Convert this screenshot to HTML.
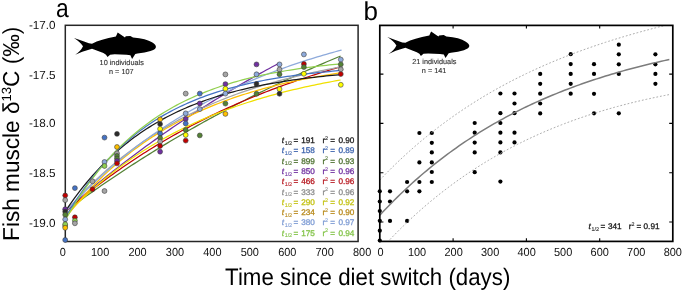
<!DOCTYPE html><html><head><meta charset="utf-8"><style>html,body{margin:0;padding:0;background:#fff;}</style></head><body><svg width="685" height="292" viewBox="0 0 685 292" style="display:block;font-family:'Liberation Sans', sans-serif;will-change:transform;text-rendering:geometricPrecision">
<rect width="685" height="292" fill="#fff"/>
<text x="55.9" y="16.6" font-size="26" text-anchor="start" fill="#000" textLength="12.7" lengthAdjust="spacingAndGlyphs">a</text>
<text x="363.5" y="19.6" font-size="26" text-anchor="start" fill="#000" >b</text>
<text x="55.6" y="29.3" font-size="11.7" text-anchor="end" fill="#111" >-17.0</text>
<text x="55.6" y="78.60000000000001" font-size="11.7" text-anchor="end" fill="#111" >-17.5</text>
<text x="55.6" y="127.3" font-size="11.7" text-anchor="end" fill="#111" >-18.0</text>
<text x="55.6" y="177.0" font-size="11.7" text-anchor="end" fill="#111" >-18.5</text>
<text x="55.6" y="226.5" font-size="11.7" text-anchor="end" fill="#111" >-19.0</text>
<text x="62.7" y="256.2" font-size="11.7" text-anchor="middle" fill="#111" textLength="6.08" lengthAdjust="spacingAndGlyphs">0</text>
<text x="100.12" y="256.2" font-size="11.7" text-anchor="middle" fill="#111" textLength="18.25" lengthAdjust="spacingAndGlyphs">100</text>
<text x="137.55" y="256.2" font-size="11.7" text-anchor="middle" fill="#111" textLength="18.25" lengthAdjust="spacingAndGlyphs">200</text>
<text x="174.97" y="256.2" font-size="11.7" text-anchor="middle" fill="#111" textLength="18.25" lengthAdjust="spacingAndGlyphs">300</text>
<text x="212.4" y="256.2" font-size="11.7" text-anchor="middle" fill="#111" textLength="18.25" lengthAdjust="spacingAndGlyphs">400</text>
<text x="249.82" y="256.2" font-size="11.7" text-anchor="middle" fill="#111" textLength="18.25" lengthAdjust="spacingAndGlyphs">500</text>
<text x="287.25" y="256.2" font-size="11.7" text-anchor="middle" fill="#111" textLength="18.25" lengthAdjust="spacingAndGlyphs">600</text>
<text x="324.67" y="256.2" font-size="11.7" text-anchor="middle" fill="#111" textLength="18.25" lengthAdjust="spacingAndGlyphs">700</text>
<text x="362.1" y="256.2" font-size="11.7" text-anchor="middle" fill="#111" textLength="18.25" lengthAdjust="spacingAndGlyphs">800</text>
<text x="380.55" y="256.2" font-size="11.7" text-anchor="middle" fill="#111" textLength="6.08" lengthAdjust="spacingAndGlyphs">0</text>
<text x="417.07" y="256.2" font-size="11.7" text-anchor="middle" fill="#111" textLength="18.25" lengthAdjust="spacingAndGlyphs">100</text>
<text x="453.6" y="256.2" font-size="11.7" text-anchor="middle" fill="#111" textLength="18.25" lengthAdjust="spacingAndGlyphs">200</text>
<text x="490.12" y="256.2" font-size="11.7" text-anchor="middle" fill="#111" textLength="18.25" lengthAdjust="spacingAndGlyphs">300</text>
<text x="526.65" y="256.2" font-size="11.7" text-anchor="middle" fill="#111" textLength="18.25" lengthAdjust="spacingAndGlyphs">400</text>
<text x="563.17" y="256.2" font-size="11.7" text-anchor="middle" fill="#111" textLength="18.25" lengthAdjust="spacingAndGlyphs">500</text>
<text x="599.7" y="256.2" font-size="11.7" text-anchor="middle" fill="#111" textLength="18.25" lengthAdjust="spacingAndGlyphs">600</text>
<text x="636.23" y="256.2" font-size="11.7" text-anchor="middle" fill="#111" textLength="18.25" lengthAdjust="spacingAndGlyphs">700</text>
<text x="672.75" y="256.2" font-size="11.7" text-anchor="middle" fill="#111" textLength="18.25" lengthAdjust="spacingAndGlyphs">800</text>
<text transform="translate(225.1,285.2) scale(1,1.06)" font-size="22.5" fill="#000" textLength="285.2" lengthAdjust="spacingAndGlyphs">Time since diet switch (days)</text>
<text transform="translate(19,240.9) rotate(-90) scale(1,1.025)" font-size="22.5" fill="#000" textLength="214.2" lengthAdjust="spacingAndGlyphs">Fish muscle δ<tspan font-size="13" dy="-7.5">13</tspan><tspan dy="7.5">C (‰)</tspan></text>
<path d="M74.0 38.0 L79.9 40.1 L88.9 43.3 L92 43.7 Q100.5 39.3 115.9 36.5 L117.7 32.4 L125 37.5 L125.7 36.3 L130.3 35.9 L133 37.5 Q146.5 38.8 152 42.3 Q156.3 44.8 155.9 47.2 Q155.2 49.6 150.5 51.1 Q145 52.6 137.5 53.6 L135.3 54.1 L132.1 58.9 L130.4 55.3 L126.6 54.8 L114.7 54.3 L110.1 54.7 L107.5 57 L106 54.7 L103.4 53.1 L92 48.7 L82.3 51.7 L75.2 54.8 Q80.9 51.0 83.0 46.3 Q80.6 42.3 74.0 38.0 Z" transform="translate(0,0)" fill="#000"/>
<path d="M74.0 38.0 L79.9 40.1 L88.9 43.3 L92 43.7 Q100.5 39.3 115.9 36.5 L117.7 32.4 L125 37.5 L125.7 36.3 L130.3 35.9 L133 37.5 Q146.5 38.8 152 42.3 Q156.3 44.8 155.9 47.2 Q155.2 49.6 150.5 51.1 Q145 52.6 137.5 53.6 L135.3 54.1 L132.1 58.9 L130.4 55.3 L126.6 54.8 L114.7 54.3 L110.1 54.7 L107.5 57 L106 54.7 L103.4 53.1 L92 48.7 L82.3 51.7 L75.2 54.8 Q80.9 51.0 83.0 46.3 Q80.6 42.3 74.0 38.0 Z" transform="translate(313.4,-0.9)" fill="#000"/>
<text x="121.7" y="64.8" font-size="7.3" text-anchor="middle" fill="#333" stroke="#333" stroke-width="0.12">10 individuals</text>
<text x="121.3" y="73.8" font-size="7.3" text-anchor="middle" fill="#333" stroke="#333" stroke-width="0.12">n = 107</text>
<text x="434.3" y="63.9" font-size="7.3" text-anchor="middle" fill="#333" stroke="#333" stroke-width="0.12">21 individuals</text>
<text x="434.1" y="73.0" font-size="7.3" text-anchor="middle" fill="#333" stroke="#333" stroke-width="0.12">n = 141</text>
<circle cx="379.8" cy="191.3" r="2.1" fill="#000"/>
<circle cx="379.8" cy="201.5" r="2.1" fill="#000"/>
<circle cx="379.8" cy="211.0" r="2.1" fill="#000"/>
<circle cx="379.8" cy="220.8" r="2.1" fill="#000"/>
<circle cx="379.8" cy="230.7" r="2.1" fill="#000"/>
<circle cx="379.8" cy="240.5" r="2.1" fill="#000"/>
<circle cx="390.0" cy="191.3" r="2.1" fill="#000"/>
<circle cx="390.0" cy="201.5" r="2.1" fill="#000"/>
<circle cx="390.0" cy="220.9" r="2.1" fill="#000"/>
<circle cx="407.1" cy="182.0" r="2.1" fill="#000"/>
<circle cx="407.1" cy="191.3" r="2.1" fill="#000"/>
<circle cx="407.1" cy="220.9" r="2.1" fill="#000"/>
<circle cx="419.4" cy="133.0" r="2.1" fill="#000"/>
<circle cx="419.4" cy="162.4" r="2.1" fill="#000"/>
<circle cx="419.4" cy="182.0" r="2.1" fill="#000"/>
<circle cx="419.4" cy="191.3" r="2.1" fill="#000"/>
<circle cx="431.8" cy="133.0" r="2.1" fill="#000"/>
<circle cx="431.8" cy="142.8" r="2.1" fill="#000"/>
<circle cx="431.8" cy="152.4" r="2.1" fill="#000"/>
<circle cx="431.8" cy="162.4" r="2.1" fill="#000"/>
<circle cx="431.8" cy="172.0" r="2.1" fill="#000"/>
<circle cx="431.8" cy="182.0" r="2.1" fill="#000"/>
<circle cx="474.7" cy="123.0" r="2.1" fill="#000"/>
<circle cx="474.7" cy="132.7" r="2.1" fill="#000"/>
<circle cx="474.7" cy="142.6" r="2.1" fill="#000"/>
<circle cx="474.7" cy="152.4" r="2.1" fill="#000"/>
<circle cx="474.7" cy="172.2" r="2.1" fill="#000"/>
<circle cx="500.4" cy="93.5" r="2.1" fill="#000"/>
<circle cx="500.4" cy="113.2" r="2.1" fill="#000"/>
<circle cx="500.4" cy="123.0" r="2.1" fill="#000"/>
<circle cx="500.4" cy="132.7" r="2.1" fill="#000"/>
<circle cx="500.4" cy="142.4" r="2.1" fill="#000"/>
<circle cx="500.4" cy="152.4" r="2.1" fill="#000"/>
<circle cx="500.4" cy="181.6" r="2.1" fill="#000"/>
<circle cx="514.5" cy="93.5" r="2.1" fill="#000"/>
<circle cx="514.5" cy="103.5" r="2.1" fill="#000"/>
<circle cx="514.5" cy="113.2" r="2.1" fill="#000"/>
<circle cx="514.5" cy="132.7" r="2.1" fill="#000"/>
<circle cx="514.5" cy="142.4" r="2.1" fill="#000"/>
<circle cx="540.2" cy="73.9" r="2.1" fill="#000"/>
<circle cx="540.2" cy="83.8" r="2.1" fill="#000"/>
<circle cx="540.2" cy="93.7" r="2.1" fill="#000"/>
<circle cx="540.2" cy="103.5" r="2.1" fill="#000"/>
<circle cx="540.2" cy="113.4" r="2.1" fill="#000"/>
<circle cx="570.7" cy="54.2" r="2.1" fill="#000"/>
<circle cx="570.7" cy="64.1" r="2.1" fill="#000"/>
<circle cx="570.7" cy="73.9" r="2.1" fill="#000"/>
<circle cx="570.7" cy="83.8" r="2.1" fill="#000"/>
<circle cx="570.7" cy="93.7" r="2.1" fill="#000"/>
<circle cx="594.0" cy="64.2" r="2.1" fill="#000"/>
<circle cx="594.0" cy="73.9" r="2.1" fill="#000"/>
<circle cx="594.0" cy="93.8" r="2.1" fill="#000"/>
<circle cx="594.0" cy="113.3" r="2.1" fill="#000"/>
<circle cx="618.8" cy="44.7" r="2.1" fill="#000"/>
<circle cx="618.8" cy="54.3" r="2.1" fill="#000"/>
<circle cx="618.8" cy="64.3" r="2.1" fill="#000"/>
<circle cx="618.8" cy="73.9" r="2.1" fill="#000"/>
<circle cx="618.8" cy="113.3" r="2.1" fill="#000"/>
<circle cx="655.4" cy="54.3" r="2.1" fill="#000"/>
<circle cx="655.4" cy="64.3" r="2.1" fill="#000"/>
<circle cx="655.4" cy="73.9" r="2.1" fill="#000"/>
<circle cx="655.4" cy="83.8" r="2.1" fill="#000"/>
<clipPath id="cb"><rect x="379.8" y="25.4" width="292.99999999999994" height="216.0"/></clipPath>
<g clip-path="url(#cb)">
<polyline fill="none" stroke="#a8a8a8" stroke-width="0.95" stroke-dasharray="1.8,1.9" points="379.80,180.02 382.73,176.96 385.66,173.94 388.60,170.98 391.53,168.06 394.46,165.18 397.39,162.36 400.32,159.58 403.26,156.84 406.19,154.15 409.12,151.50 412.05,148.89 414.98,146.32 417.92,143.80 420.85,141.31 423.78,138.86 426.71,136.46 429.64,134.09 432.58,131.76 435.51,129.46 438.44,127.20 441.37,124.98 444.30,122.79 447.24,120.64 450.17,118.52 453.10,116.43 456.03,114.38 458.96,112.36 461.90,110.37 464.83,108.41 467.76,106.48 470.69,104.58 473.62,102.71 476.56,100.87 479.49,99.06 482.42,97.28 485.35,95.52 488.28,93.79 491.22,92.09 494.15,90.41 497.08,88.76 500.01,87.14 502.94,85.54 505.88,83.96 508.81,82.41 511.74,80.88 514.67,79.38 517.60,77.90 520.54,76.44 523.47,75.00 526.40,73.58 529.33,72.19 532.26,70.82 535.20,69.46 538.13,68.13 541.06,66.82 543.99,65.52 546.92,64.25 549.86,62.99 552.79,61.75 555.72,60.54 558.65,59.33 561.58,58.15 564.52,56.98 567.45,55.83 570.38,54.70 573.31,53.58 576.24,52.48 579.18,51.40 582.11,50.33 585.04,49.27 587.97,48.23 590.90,47.21 593.84,46.20 596.77,45.20 599.70,44.22 602.63,43.25 605.56,42.29 608.50,41.35 611.43,40.42 614.36,39.50 617.29,38.60 620.22,37.71 623.16,36.83 626.09,35.96 629.02,35.10 631.95,34.26 634.88,33.42 637.82,32.60 640.75,31.78 643.68,30.98 646.61,30.19 649.54,29.41 652.48,28.64 655.41,27.87 658.34,27.12 661.27,26.38 664.20,25.64 667.14,24.92 669.34,24.38"/>
<polyline fill="none" stroke="#a8a8a8" stroke-width="0.95" stroke-dasharray="1.8,1.9" points="379.80,250.42 382.73,247.20 385.66,244.03 388.60,240.91 391.53,237.84 394.46,234.82 397.39,231.86 400.32,228.94 403.26,226.06 406.19,223.24 409.12,220.46 412.05,217.72 414.98,215.03 417.92,212.39 420.85,209.78 423.78,207.22 426.71,204.71 429.64,202.23 432.58,199.79 435.51,197.40 438.44,195.04 441.37,192.72 444.30,190.45 447.24,188.20 450.17,186.00 453.10,183.83 456.03,181.70 458.96,179.60 461.90,177.54 464.83,175.51 467.76,173.52 470.69,171.56 473.62,169.63 476.56,167.73 479.49,165.87 482.42,164.04 485.35,162.23 488.28,160.46 491.22,158.72 494.15,157.01 497.08,155.32 500.01,153.67 502.94,152.04 505.88,150.44 508.81,148.87 511.74,147.32 514.67,145.80 517.60,144.31 520.54,142.84 523.47,141.40 526.40,139.98 529.33,138.59 532.26,137.22 535.20,135.88 538.13,134.56 541.06,133.26 543.99,131.98 546.92,130.73 549.86,129.49 552.79,128.28 555.72,127.10 558.65,125.93 561.58,124.78 564.52,123.65 567.45,122.55 570.38,121.46 573.31,120.39 576.24,119.34 579.18,118.32 582.11,117.30 585.04,116.31 587.97,115.34 590.90,114.38 593.84,113.44 596.77,112.52 599.70,111.62 602.63,110.73 605.56,109.86 608.50,109.00 611.43,108.17 614.36,107.34 617.29,106.54 620.22,105.75 623.16,104.97 626.09,104.21 629.02,103.46 631.95,102.73 634.88,102.01 637.82,101.31 640.75,100.62 643.68,99.94 646.61,99.28 649.54,98.63 652.48,97.99 655.41,97.37 658.34,96.76 661.27,96.16 664.20,95.58 667.14,95.00 669.34,94.58"/>
<polyline fill="none" stroke="#7c7c7c" stroke-width="1.5" points="379.80,215.22 382.73,212.08 385.66,208.98 388.60,205.94 391.53,202.95 394.46,200.00 397.39,197.11 400.32,194.26 403.26,191.45 406.19,188.69 409.12,185.98 412.05,183.31 414.98,180.68 417.92,178.09 420.85,175.55 423.78,173.04 426.71,170.58 429.64,168.16 432.58,165.77 435.51,163.43 438.44,161.12 441.37,158.85 444.30,156.62 447.24,154.42 450.17,152.26 453.10,150.13 456.03,148.04 458.96,145.98 461.90,143.95 464.83,141.96 467.76,140.00 470.69,138.07 473.62,136.17 476.56,134.30 479.49,132.46 482.42,130.66 485.35,128.88 488.28,127.13 491.22,125.40 494.15,123.71 497.08,122.04 500.01,120.40 502.94,118.79 505.88,117.20 508.81,115.64 511.74,114.10 514.67,112.59 517.60,111.10 520.54,109.64 523.47,108.20 526.40,106.78 529.33,105.39 532.26,104.02 535.20,102.67 538.13,101.34 541.06,100.04 543.99,98.75 546.92,97.49 549.86,96.24 552.79,95.02 555.72,93.82 558.65,92.63 561.58,91.46 564.52,90.32 567.45,89.19 570.38,88.08 573.31,86.99 576.24,85.91 579.18,84.86 582.11,83.82 585.04,82.79 587.97,81.79 590.90,80.79 593.84,79.82 596.77,78.86 599.70,77.92 602.63,76.99 605.56,76.08 608.50,75.18 611.43,74.29 614.36,73.42 617.29,72.57 620.22,71.73 623.16,70.90 626.09,70.08 629.02,69.28 631.95,68.49 634.88,67.72 637.82,66.95 640.75,66.20 643.68,65.46 646.61,64.73 649.54,64.02 652.48,63.31 655.41,62.62 658.34,61.94 661.27,61.27 664.20,60.61 667.14,59.96 669.34,59.48"/>
</g>
<rect x="379.8" y="25.4" width="293.0" height="216.0" fill="none" stroke="#000" stroke-width="1.7"/>
<path d="M453.10 25.4 v3.2 M453.10 241.4 v-3.2 M526.40 25.4 v3.2 M526.40 241.4 v-3.2 M599.70 25.4 v3.2 M599.70 241.4 v-3.2 M379.8 74.1 h3.6 M672.8 74.1 h-3.6 M379.8 123.4 h3.6 M672.8 123.4 h-3.6 M379.8 172.7 h3.6 M672.8 172.7 h-3.6 M379.8 222.0 h3.6 M672.8 222.0 h-3.6" stroke="#000" stroke-width="1.1" fill="none"/>
<g fill="#1a1a1a" stroke="#1a1a1a" stroke-width="0.3" font-size="8.2"><text x="588.60" y="229.0" font-style="italic">t</text><text x="591.60" y="230.70" font-size="5.3" stroke-width="0.1">1/2</text><text x="600.40" y="229.0">=</text><text x="621.70" y="229.0" text-anchor="end">341</text><text x="628.70" y="229.0">r</text><text x="631.40" y="225.70" font-size="5.3" stroke-width="0.1">2</text><text x="636.60" y="229.0">=</text><text x="659.50" y="229.0" text-anchor="end">0.91</text></g>
<rect x="65.3" y="25.3" width="292.8" height="216.2" fill="none" stroke="#262626" stroke-width="1.5"/>
<clipPath id="ca"><rect x="65.3" y="25.3" width="292.8" height="216.2"/></clipPath>
<g clip-path="url(#ca)" fill="none" stroke-width="1.25">
<polyline stroke="#548235" points="65.30,211.40 68.30,209.17 71.30,206.96 74.30,204.76 77.30,202.58 80.30,200.41 83.30,198.25 86.30,196.11 89.30,193.98 92.30,191.87 95.30,189.76 98.30,187.67 101.30,185.60 104.30,183.53 107.30,181.48 110.30,179.45 113.30,177.42 116.30,175.41 119.30,173.41 122.30,171.43 125.30,169.45 128.30,167.49 131.30,165.54 134.30,163.61 137.30,161.68 140.30,159.77 143.30,157.87 146.30,155.98 149.30,154.11 152.30,152.24 155.30,150.39 158.30,148.55 161.30,146.72 164.30,144.90 167.30,143.10 170.30,141.30 173.30,139.52 176.30,137.75 179.30,135.99 182.30,134.24 185.30,132.50 188.30,130.77 191.30,129.05 194.30,127.35 197.30,125.65 200.30,123.97 203.30,122.29 206.30,120.63 209.30,118.98 212.30,117.34 215.30,115.70 218.30,114.08 221.30,112.47 224.30,110.87 227.30,109.28 230.30,107.70 233.30,106.13 236.30,104.56 239.30,103.01 242.30,101.47 245.30,99.94 248.30,98.42 251.30,96.90 254.30,95.40 257.30,93.91 260.30,92.42 263.30,90.95 266.30,89.48 269.30,88.03 272.30,86.58 275.30,85.14 278.30,83.71 281.30,82.29 284.30,80.88 287.30,79.48 290.30,78.09 293.30,76.70 296.30,75.33 299.30,73.96 302.30,72.60 305.30,71.25 308.30,69.91 311.30,68.58 314.30,67.26 317.30,65.94 320.30,64.63 323.30,63.33 326.30,62.04 329.30,60.76 332.30,59.49 335.30,58.22 338.30,56.96 340.60,56.00"/>
<polyline stroke="#7030a0" points="65.30,211.00 68.30,208.37 71.30,205.76 74.30,203.16 77.30,200.59 80.30,198.03 83.30,195.49 86.30,192.97 89.30,190.46 92.30,187.98 95.30,185.51 98.30,183.06 101.30,180.62 104.30,178.21 107.30,175.81 110.30,173.42 113.30,171.06 116.30,168.71 119.30,166.37 122.30,164.06 125.30,161.76 128.30,159.47 131.30,157.21 134.30,154.95 137.30,152.72 140.30,150.50 143.30,148.29 146.30,146.10 149.30,143.93 152.30,141.77 155.30,139.62 158.30,137.50 161.30,135.38 164.30,133.28 167.30,131.20 170.30,129.13 173.30,127.08 176.30,125.04 179.30,123.01 182.30,121.00 185.30,119.00 188.30,117.02 191.30,115.05 194.30,113.09 197.30,111.15 200.30,109.22 203.30,107.31 206.30,105.41 209.30,103.52 212.30,101.64 215.30,99.78 218.30,97.94 221.30,96.10 224.30,94.28 227.30,92.47 230.30,90.67 233.30,88.89 236.30,87.12 239.30,85.36 242.30,83.61 245.30,81.88 248.30,80.15 251.30,78.44 254.30,76.75 257.30,75.06 260.30,73.39 263.30,71.72 266.30,70.07 269.30,68.43 272.30,66.81 275.30,65.19 278.30,63.59 279.40,63.00"/>
<polyline stroke="#c00000" points="65.30,212.00 68.30,209.40 71.30,206.83 74.30,204.29 77.30,201.78 80.30,199.30 83.30,196.85 86.30,194.43 89.30,192.03 92.30,189.67 95.30,187.34 98.30,185.03 101.30,182.75 104.30,180.50 107.30,178.28 110.30,176.08 113.30,173.91 116.30,171.76 119.30,169.64 122.30,167.55 125.30,165.48 128.30,163.44 131.30,161.42 134.30,159.42 137.30,157.45 140.30,155.50 143.30,153.58 146.30,151.68 149.30,149.80 152.30,147.95 155.30,146.11 158.30,144.30 161.30,142.51 164.30,140.74 167.30,139.00 170.30,137.27 173.30,135.57 176.30,133.88 179.30,132.22 182.30,130.57 185.30,128.95 188.30,127.34 191.30,125.76 194.30,124.19 197.30,122.64 200.30,121.11 203.30,119.60 206.30,118.11 209.30,116.63 212.30,115.18 215.30,113.74 218.30,112.31 221.30,110.91 224.30,109.52 227.30,108.15 230.30,106.79 233.30,105.45 236.30,104.13 239.30,102.82 242.30,101.53 245.30,100.26 248.30,99.00 251.30,97.75 254.30,96.52 257.30,95.30 260.30,94.10 263.30,92.92 266.30,91.74 269.30,90.59 272.30,89.44 275.30,88.31 278.30,87.19 281.30,86.09 284.30,85.00 287.30,83.92 290.30,82.86 293.30,81.81 296.30,80.77 299.30,79.74 302.30,78.73 305.30,77.72 308.30,76.73 311.30,75.76 314.30,74.79 317.30,73.84 320.30,72.89 323.30,71.96 326.30,71.04 329.30,70.13 332.30,69.23 335.30,68.34 338.30,67.47 340.60,66.80"/>
<polyline stroke="#f0e000" points="65.30,216.00 68.30,212.83 71.30,209.72 74.30,206.67 77.30,203.68 80.30,200.75 83.30,197.88 86.30,195.06 89.30,192.30 92.30,189.59 95.30,186.93 98.30,184.33 101.30,181.77 104.30,179.27 107.30,176.81 110.30,174.41 113.30,172.05 116.30,169.73 119.30,167.46 122.30,165.24 125.30,163.06 128.30,160.92 131.30,158.82 134.30,156.76 137.30,154.75 140.30,152.77 143.30,150.83 146.30,148.93 149.30,147.06 152.30,145.24 155.30,143.44 158.30,141.69 161.30,139.96 164.30,138.27 167.30,136.62 170.30,134.99 173.30,133.40 176.30,131.84 179.30,130.31 182.30,128.81 185.30,127.33 188.30,125.89 191.30,124.47 194.30,123.09 197.30,121.73 200.30,120.39 203.30,119.08 206.30,117.80 209.30,116.54 212.30,115.31 215.30,114.10 218.30,112.92 221.30,111.75 224.30,110.61 227.30,109.50 230.30,108.40 233.30,107.32 236.30,106.27 239.30,105.24 242.30,104.23 245.30,103.23 248.30,102.26 251.30,101.30 254.30,100.37 257.30,99.45 260.30,98.55 263.30,97.67 266.30,96.80 269.30,95.95 272.30,95.12 275.30,94.30 278.30,93.50 281.30,92.72 284.30,91.95 287.30,91.20 290.30,90.46 293.30,89.73 296.30,89.02 299.30,88.32 302.30,87.64 305.30,86.97 308.30,86.31 311.30,85.67 314.30,85.04 317.30,84.42 320.30,83.81 323.30,83.21 326.30,82.63 329.30,82.06 332.30,81.50 335.30,80.95 338.30,80.41 340.60,80.00"/>
<polyline stroke="#ffc000" points="65.30,218.00 68.30,214.20 71.30,210.49 74.30,206.86 77.30,203.32 80.30,199.86 83.30,196.48 86.30,193.18 89.30,189.95 92.30,186.80 95.30,183.72 98.30,180.71 101.30,177.77 104.30,174.90 107.30,172.10 110.30,169.36 113.30,166.68 116.30,164.07 119.30,161.52 122.30,159.02 125.30,156.58 128.30,154.20 131.30,151.88 134.30,149.61 137.30,147.39 140.30,145.22 143.30,143.10 146.30,141.03 149.30,139.01 152.30,137.03 155.30,135.11 158.30,133.22 161.30,131.38 164.30,129.58 167.30,127.83 170.30,126.11 173.30,124.43 176.30,122.79 179.30,121.20 182.30,119.63 185.30,118.11 188.30,116.61 191.30,115.16 194.30,113.73 197.30,112.34 200.30,110.98 203.30,109.66 206.30,108.36 209.30,107.09 212.30,105.86 215.30,104.65 218.30,103.47 221.30,102.31 224.30,101.19 227.30,100.09 230.30,99.01 233.30,97.96 236.30,96.94 239.30,95.93 242.30,94.95 245.30,94.00 248.30,93.06 251.30,92.15 254.30,91.26 257.30,90.39 260.30,89.54 263.30,88.70 266.30,87.89 269.30,87.10 272.30,86.32 275.30,85.57 278.30,84.83 281.30,84.10 284.30,83.40 287.30,82.71 290.30,82.04 293.30,81.38 296.30,80.73 299.30,80.11 302.30,79.49 305.30,78.89 308.30,78.31 311.30,77.74 314.30,77.18 317.30,76.63 320.30,76.10 323.30,75.58 326.30,75.07 329.30,74.57 332.30,74.09 335.30,73.61 338.30,73.15 340.60,72.80"/>
<polyline stroke="#a5a5a5" points="65.30,212.12 68.30,208.66 71.30,205.27 74.30,201.95 77.30,198.69 80.30,195.50 83.30,192.38 86.30,189.31 89.30,186.31 92.30,183.37 95.30,180.49 98.30,177.67 101.30,174.91 104.30,172.20 107.30,169.54 110.30,166.94 113.30,164.39 116.30,161.89 119.30,159.45 122.30,157.05 125.30,154.70 128.30,152.40 131.30,150.14 134.30,147.93 137.30,145.77 140.30,143.64 143.30,141.57 146.30,139.53 149.30,137.53 152.30,135.58 155.30,133.66 158.30,131.78 161.30,129.94 164.30,128.14 167.30,126.37 170.30,124.64 173.30,122.95 176.30,121.28 179.30,119.66 182.30,118.06 185.30,116.50 188.30,114.97 191.30,113.46 194.30,111.99 197.30,110.55 200.30,109.14 203.30,107.76 206.30,106.40 209.30,105.07 212.30,103.77 215.30,102.50 218.30,101.25 221.30,100.02 224.30,98.82 227.30,97.65 230.30,96.50 233.30,95.37 236.30,94.26 239.30,93.18 242.30,92.12 245.30,91.08 248.30,90.06 251.30,89.06 254.30,88.08 257.30,87.12 260.30,86.18 263.30,85.26 266.30,84.36 269.30,83.48 272.30,82.61 275.30,81.76 278.30,80.93 281.30,80.12 284.30,79.32 287.30,78.54 290.30,77.77 293.30,77.02 296.30,76.29 299.30,75.57 302.30,74.86 305.30,74.17 308.30,73.49 311.30,72.82 314.30,72.17 317.30,71.54 320.30,70.91 323.30,70.30 326.30,69.70 329.30,69.11 332.30,68.53 335.30,67.97 338.30,67.42 340.60,67.00"/>
<polyline stroke="#8eaadb" points="65.30,211.93 68.30,208.68 71.30,205.47 74.30,202.31 77.30,199.21 80.30,196.14 83.30,193.13 86.30,190.16 89.30,187.24 92.30,184.36 95.30,181.52 98.30,178.73 101.30,175.98 104.30,173.27 107.30,170.60 110.30,167.97 113.30,165.39 116.30,162.84 119.30,160.33 122.30,157.86 125.30,155.43 128.30,153.03 131.30,150.67 134.30,148.35 137.30,146.06 140.30,143.81 143.30,141.59 146.30,139.40 149.30,137.25 152.30,135.13 155.30,133.04 158.30,130.99 161.30,128.96 164.30,126.97 167.30,125.00 170.30,123.07 173.30,121.17 176.30,119.29 179.30,117.44 182.30,115.63 185.30,113.83 188.30,112.07 191.30,110.33 194.30,108.62 197.30,106.94 200.30,105.28 203.30,103.65 206.30,102.04 209.30,100.45 212.30,98.89 215.30,97.36 218.30,95.84 221.30,94.35 224.30,92.88 227.30,91.44 230.30,90.02 233.30,88.61 236.30,87.23 239.30,85.87 242.30,84.53 245.30,83.22 248.30,81.92 251.30,80.64 254.30,79.38 257.30,78.14 260.30,76.92 263.30,75.72 266.30,74.53 269.30,73.37 272.30,72.22 275.30,71.09 278.30,69.97 281.30,68.87 284.30,67.79 287.30,66.73 290.30,65.68 293.30,64.65 296.30,63.63 299.30,62.63 302.30,61.65 305.30,60.68 308.30,59.72 311.30,58.78 314.30,57.85 317.30,56.94 320.30,56.04 323.30,55.16 326.30,54.28 329.30,53.43 332.30,52.58 335.30,51.75 338.30,50.93 341.30,50.12 341.60,50.04"/>
<polyline stroke="#1a1a1a" points="65.30,211.30 68.30,206.87 71.30,202.58 74.30,198.42 77.30,194.39 80.30,190.48 83.30,186.69 86.30,183.01 89.30,179.45 92.30,176.00 95.30,172.65 98.30,169.40 101.30,166.25 104.30,163.20 107.30,160.24 110.30,157.37 113.30,154.59 116.30,151.89 119.30,149.28 122.30,146.75 125.30,144.29 128.30,141.91 131.30,139.60 134.30,137.36 137.30,135.19 140.30,133.08 143.30,131.04 146.30,129.06 149.30,127.15 152.30,125.29 155.30,123.48 158.30,121.74 161.30,120.04 164.30,118.40 167.30,116.81 170.30,115.26 173.30,113.77 176.30,112.31 179.30,110.91 182.30,109.54 185.30,108.22 188.30,106.94 191.30,105.70 194.30,104.49 197.30,103.32 200.30,102.19 203.30,101.09 206.30,100.03 209.30,98.99 212.30,97.99 215.30,97.02 218.30,96.08 221.30,95.17 224.30,94.28 227.30,93.43 230.30,92.60 233.30,91.79 236.30,91.01 239.30,90.25 242.30,89.52 245.30,88.81 248.30,88.12 251.30,87.45 254.30,86.80 257.30,86.17 260.30,85.56 263.30,84.97 266.30,84.39 269.30,83.84 272.30,83.30 275.30,82.78 278.30,82.27 281.30,81.78 284.30,81.30 287.30,80.84 290.30,80.40 293.30,79.96 296.30,79.54 299.30,79.13 302.30,78.74 305.30,78.36 308.30,77.98 311.30,77.62 314.30,77.27 317.30,76.94 320.30,76.61 323.30,76.29 326.30,75.98 329.30,75.68 332.30,75.39 335.30,75.11 338.30,74.84 340.60,74.63"/>
<polyline stroke="#4472c4" points="65.30,217.53 68.30,212.50 71.30,207.64 74.30,202.93 77.30,198.38 80.30,193.98 83.30,189.71 86.30,185.59 89.30,181.60 92.30,177.75 95.30,174.01 98.30,170.40 101.30,166.91 104.30,163.53 107.30,160.26 110.30,157.10 113.30,154.04 116.30,151.08 119.30,148.21 122.30,145.44 125.30,142.76 128.30,140.17 131.30,137.66 134.30,135.23 137.30,132.88 140.30,130.61 143.30,128.41 146.30,126.29 149.30,124.23 152.30,122.24 155.30,120.32 158.30,118.45 161.30,116.65 164.30,114.91 167.30,113.22 170.30,111.59 173.30,110.01 176.30,108.49 179.30,107.01 182.30,105.58 185.30,104.20 188.30,102.86 191.30,101.57 194.30,100.32 197.30,99.10 200.30,97.93 203.30,96.80 206.30,95.70 209.30,94.64 212.30,93.62 215.30,92.62 218.30,91.66 221.30,90.73 224.30,89.84 227.30,88.97 230.30,88.12 233.30,87.31 236.30,86.52 239.30,85.76 242.30,85.02 245.30,84.31 248.30,83.62 251.30,82.96 254.30,82.31 257.30,81.69 260.30,81.08 263.30,80.50 266.30,79.93 269.30,79.38 272.30,78.85 275.30,78.34 278.30,77.85 281.30,77.37 284.30,76.90 287.30,76.46 290.30,76.02 293.30,75.60 296.30,75.20 299.30,74.80 302.30,74.42 305.30,74.06 308.30,73.70 311.30,73.36 314.30,73.02 317.30,72.70 320.30,72.39 323.30,72.09 326.30,71.80 329.30,71.52 332.30,71.24 335.30,70.98 338.30,70.72 341.00,70.50"/>
<polyline stroke="#92d050" points="65.30,220.06 68.30,214.84 71.30,209.79 74.30,204.90 77.30,200.17 80.30,195.58 83.30,191.14 86.30,186.85 89.30,182.68 92.30,178.65 95.30,174.75 98.30,170.97 101.30,167.30 104.30,163.76 107.30,160.33 110.30,157.00 113.30,153.78 116.30,150.66 119.30,147.65 122.30,144.72 125.30,141.89 128.30,139.15 131.30,136.50 134.30,133.92 137.30,131.44 140.30,129.02 143.30,126.69 146.30,124.43 149.30,122.24 152.30,120.12 155.30,118.07 158.30,116.08 161.30,114.15 164.30,112.29 167.30,110.49 170.30,108.74 173.30,107.04 176.30,105.41 179.30,103.82 182.30,102.28 185.30,100.79 188.30,99.35 191.30,97.95 194.30,96.60 197.30,95.29 200.30,94.03 203.30,92.80 206.30,91.61 209.30,90.46 212.30,89.34 215.30,88.27 218.30,87.22 221.30,86.21 224.30,85.23 227.30,84.28 230.30,83.36 233.30,82.47 236.30,81.61 239.30,80.77 242.30,79.96 245.30,79.18 248.30,78.42 251.30,77.69 254.30,76.98 257.30,76.29 260.30,75.62 263.30,74.98 266.30,74.35 269.30,73.75 272.30,73.16 275.30,72.59 278.30,72.05 281.30,71.51 284.30,71.00 287.30,70.50 290.30,70.02 293.30,69.55 296.30,69.09 299.30,68.66 302.30,68.23 305.30,67.82 308.30,67.42 311.30,67.03 314.30,66.66 317.30,66.30 320.30,65.95 323.30,65.61 326.30,65.28 329.30,64.96 332.30,64.65 335.30,64.36 338.30,64.07 339.00,64.00"/>
</g>
<g stroke="#3a3a3a" stroke-width="0.6">
<circle cx="65.2" cy="195.5" r="2.45" fill="#c00000"/>
<circle cx="65.2" cy="200.1" r="2.45" fill="#a5a5a5"/>
<circle cx="65.2" cy="209.2" r="2.45" fill="#7030a0"/>
<circle cx="65.2" cy="211.7" r="2.45" fill="#2b2b2b"/>
<circle cx="65.2" cy="214.8" r="2.45" fill="#548235"/>
<circle cx="65.2" cy="219.4" r="2.45" fill="#8eaadb"/>
<circle cx="65.2" cy="226.0" r="2.45" fill="#ffff00"/>
<circle cx="65.2" cy="224.2" r="2.45" fill="#92d050"/>
<circle cx="65.2" cy="227.8" r="2.45" fill="#ffc000"/>
<circle cx="65.2" cy="240.0" r="2.45" fill="#4472c4"/>
<circle cx="74.9" cy="188.1" r="2.45" fill="#4472c4"/>
<circle cx="74.9" cy="217.3" r="2.45" fill="#c00000"/>
<circle cx="74.9" cy="220.7" r="2.45" fill="#92d050"/>
<circle cx="74.9" cy="223.3" r="2.45" fill="#a5a5a5"/>
<circle cx="92.5" cy="181.3" r="2.45" fill="#a5a5a5"/>
<circle cx="92.5" cy="189.3" r="2.45" fill="#c00000"/>
<circle cx="104.5" cy="137.6" r="2.45" fill="#4472c4"/>
<circle cx="104.5" cy="162.0" r="2.45" fill="#8eaadb"/>
<circle cx="104.5" cy="166.0" r="2.45" fill="#92d050"/>
<circle cx="104.5" cy="191.0" r="2.45" fill="#a5a5a5"/>
<circle cx="117.0" cy="133.9" r="2.45" fill="#2b2b2b"/>
<circle cx="117.0" cy="147.0" r="2.45" fill="#ffc000"/>
<circle cx="117.0" cy="153.3" r="2.45" fill="#a5a5a5"/>
<circle cx="117.0" cy="155.9" r="2.45" fill="#548235"/>
<circle cx="117.0" cy="158.5" r="2.45" fill="#548235"/>
<circle cx="117.0" cy="161.0" r="2.45" fill="#7030a0"/>
<circle cx="117.0" cy="163.4" r="2.45" fill="#c00000"/>
<circle cx="160.1" cy="119.4" r="2.45" fill="#ffc000"/>
<circle cx="160.1" cy="124.1" r="2.45" fill="#2b2b2b"/>
<circle cx="160.1" cy="128.9" r="2.45" fill="#ffff00"/>
<circle cx="160.1" cy="133.5" r="2.45" fill="#4472c4"/>
<circle cx="160.1" cy="138.0" r="2.45" fill="#548235"/>
<circle cx="160.1" cy="141.7" r="2.45" fill="#a5a5a5"/>
<circle cx="160.1" cy="146.0" r="2.45" fill="#c00000"/>
<circle cx="160.1" cy="151.7" r="2.45" fill="#7030a0"/>
<circle cx="185.7" cy="93.6" r="2.45" fill="#a5a5a5"/>
<circle cx="185.7" cy="113.4" r="2.45" fill="#8eaadb"/>
<circle cx="185.7" cy="119.0" r="2.45" fill="#7030a0"/>
<circle cx="185.7" cy="123.5" r="2.45" fill="#4472c4"/>
<circle cx="185.7" cy="129.9" r="2.45" fill="#548235"/>
<circle cx="185.7" cy="135.0" r="2.45" fill="#ffff00"/>
<circle cx="185.7" cy="140.6" r="2.45" fill="#c00000"/>
<circle cx="199.8" cy="93.6" r="2.45" fill="#4472c4"/>
<circle cx="199.8" cy="103.5" r="2.45" fill="#7030a0"/>
<circle cx="199.8" cy="109.1" r="2.45" fill="#8eaadb"/>
<circle cx="199.8" cy="135.4" r="2.45" fill="#548235"/>
<circle cx="225.4" cy="74.4" r="2.45" fill="#a5a5a5"/>
<circle cx="225.4" cy="84.1" r="2.45" fill="#7030a0"/>
<circle cx="225.4" cy="88.8" r="2.45" fill="#ffff00"/>
<circle cx="225.4" cy="93.6" r="2.45" fill="#8eaadb"/>
<circle cx="225.4" cy="103.6" r="2.45" fill="#548235"/>
<circle cx="225.4" cy="113.9" r="2.45" fill="#ffc000"/>
<circle cx="256.5" cy="64.4" r="2.45" fill="#7030a0"/>
<circle cx="256.5" cy="74.3" r="2.45" fill="#8eaadb"/>
<circle cx="256.5" cy="84.0" r="2.45" fill="#2b2b2b"/>
<circle cx="256.5" cy="93.8" r="2.45" fill="#548235"/>
<circle cx="279.5" cy="64.4" r="2.45" fill="#8eaadb"/>
<circle cx="279.5" cy="69.5" r="2.45" fill="#a5a5a5"/>
<circle cx="279.5" cy="74.3" r="2.45" fill="#548235"/>
<circle cx="279.5" cy="89.1" r="2.45" fill="#ffff00"/>
<circle cx="279.5" cy="93.8" r="2.45" fill="#2b2b2b"/>
<circle cx="303.9" cy="54.4" r="2.45" fill="#8eaadb"/>
<circle cx="303.9" cy="64.0" r="2.45" fill="#c00000"/>
<circle cx="303.9" cy="67.1" r="2.45" fill="#548235"/>
<circle cx="303.9" cy="73.8" r="2.45" fill="#ffff00"/>
<circle cx="340.8" cy="59.6" r="2.45" fill="#8eaadb"/>
<circle cx="340.8" cy="64.4" r="2.45" fill="#548235"/>
<circle cx="340.8" cy="69.3" r="2.45" fill="#a5a5a5"/>
<circle cx="340.8" cy="74.1" r="2.45" fill="#c00000"/>
<circle cx="340.8" cy="84.8" r="2.45" fill="#ffff00"/>
</g>
<g fill="#1a1a1a" stroke="#1a1a1a" stroke-width="0.3" font-size="8.2"><text x="281.70" y="143.2" font-style="italic">t</text><text x="284.70" y="144.90" font-size="5.3" stroke-width="0.1">1/2</text><text x="293.50" y="143.2">=</text><text x="314.80" y="143.2" text-anchor="end">191</text><text x="322.40" y="143.2">r</text><text x="325.10" y="139.90" font-size="5.3" stroke-width="0.1">2</text><text x="330.30" y="143.2">=</text><text x="354.40" y="143.2" text-anchor="end">0.90</text></g>
<g fill="#3d64ad" stroke="#3d64ad" stroke-width="0.3" font-size="8.2"><text x="281.70" y="153.48" font-style="italic">t</text><text x="284.70" y="155.18" font-size="5.3" stroke-width="0.1">1/2</text><text x="293.50" y="153.48">=</text><text x="314.80" y="153.48" text-anchor="end">158</text><text x="322.40" y="153.48">r</text><text x="325.10" y="150.18" font-size="5.3" stroke-width="0.1">2</text><text x="330.30" y="153.48">=</text><text x="354.40" y="153.48" text-anchor="end">0.89</text></g>
<g fill="#4d7030" stroke="#4d7030" stroke-width="0.3" font-size="8.2"><text x="281.70" y="163.76" font-style="italic">t</text><text x="284.70" y="165.46" font-size="5.3" stroke-width="0.1">1/2</text><text x="293.50" y="163.76">=</text><text x="314.80" y="163.76" text-anchor="end">899</text><text x="322.40" y="163.76">r</text><text x="325.10" y="160.46" font-size="5.3" stroke-width="0.1">2</text><text x="330.30" y="163.76">=</text><text x="354.40" y="163.76" text-anchor="end">0.93</text></g>
<g fill="#7030a0" stroke="#7030a0" stroke-width="0.3" font-size="8.2"><text x="281.70" y="174.04" font-style="italic">t</text><text x="284.70" y="175.74" font-size="5.3" stroke-width="0.1">1/2</text><text x="293.50" y="174.04">=</text><text x="314.80" y="174.04" text-anchor="end">850</text><text x="322.40" y="174.04">r</text><text x="325.10" y="170.74" font-size="5.3" stroke-width="0.1">2</text><text x="330.30" y="174.04">=</text><text x="354.40" y="174.04" text-anchor="end">0.96</text></g>
<g fill="#b81c24" stroke="#b81c24" stroke-width="0.3" font-size="8.2"><text x="281.70" y="184.32" font-style="italic">t</text><text x="284.70" y="186.02" font-size="5.3" stroke-width="0.1">1/2</text><text x="293.50" y="184.32">=</text><text x="314.80" y="184.32" text-anchor="end">466</text><text x="322.40" y="184.32">r</text><text x="325.10" y="181.02" font-size="5.3" stroke-width="0.1">2</text><text x="330.30" y="184.32">=</text><text x="354.40" y="184.32" text-anchor="end">0.96</text></g>
<g fill="#8c8c8c" stroke="#8c8c8c" stroke-width="0.3" font-size="8.2"><text x="281.70" y="194.6" font-style="italic">t</text><text x="284.70" y="196.30" font-size="5.3" stroke-width="0.1">1/2</text><text x="293.50" y="194.6">=</text><text x="314.80" y="194.6" text-anchor="end">333</text><text x="322.40" y="194.6">r</text><text x="325.10" y="191.30" font-size="5.3" stroke-width="0.1">2</text><text x="330.30" y="194.6">=</text><text x="354.40" y="194.6" text-anchor="end">0.96</text></g>
<g fill="#c4c214" stroke="#c4c214" stroke-width="0.3" font-size="8.2"><text x="281.70" y="204.88" font-style="italic">t</text><text x="284.70" y="206.58" font-size="5.3" stroke-width="0.1">1/2</text><text x="293.50" y="204.88">=</text><text x="314.80" y="204.88" text-anchor="end">290</text><text x="322.40" y="204.88">r</text><text x="325.10" y="201.58" font-size="5.3" stroke-width="0.1">2</text><text x="330.30" y="204.88">=</text><text x="354.40" y="204.88" text-anchor="end">0.92</text></g>
<g fill="#b88a1c" stroke="#b88a1c" stroke-width="0.3" font-size="8.2"><text x="281.70" y="215.16" font-style="italic">t</text><text x="284.70" y="216.86" font-size="5.3" stroke-width="0.1">1/2</text><text x="293.50" y="215.16">=</text><text x="314.80" y="215.16" text-anchor="end">234</text><text x="322.40" y="215.16">r</text><text x="325.10" y="211.86" font-size="5.3" stroke-width="0.1">2</text><text x="330.30" y="215.16">=</text><text x="354.40" y="215.16" text-anchor="end">0.90</text></g>
<g fill="#7d9bd4" stroke="#7d9bd4" stroke-width="0.3" font-size="8.2"><text x="281.70" y="225.44" font-style="italic">t</text><text x="284.70" y="227.14" font-size="5.3" stroke-width="0.1">1/2</text><text x="293.50" y="225.44">=</text><text x="314.80" y="225.44" text-anchor="end">380</text><text x="322.40" y="225.44">r</text><text x="325.10" y="222.14" font-size="5.3" stroke-width="0.1">2</text><text x="330.30" y="225.44">=</text><text x="354.40" y="225.44" text-anchor="end">0.97</text></g>
<g fill="#84c44a" stroke="#84c44a" stroke-width="0.3" font-size="8.2"><text x="281.70" y="235.72" font-style="italic">t</text><text x="284.70" y="237.42" font-size="5.3" stroke-width="0.1">1/2</text><text x="293.50" y="235.72">=</text><text x="314.80" y="235.72" text-anchor="end">175</text><text x="322.40" y="235.72">r</text><text x="325.10" y="232.42" font-size="5.3" stroke-width="0.1">2</text><text x="330.30" y="235.72">=</text><text x="354.40" y="235.72" text-anchor="end">0.94</text></g>
</svg></body></html>
